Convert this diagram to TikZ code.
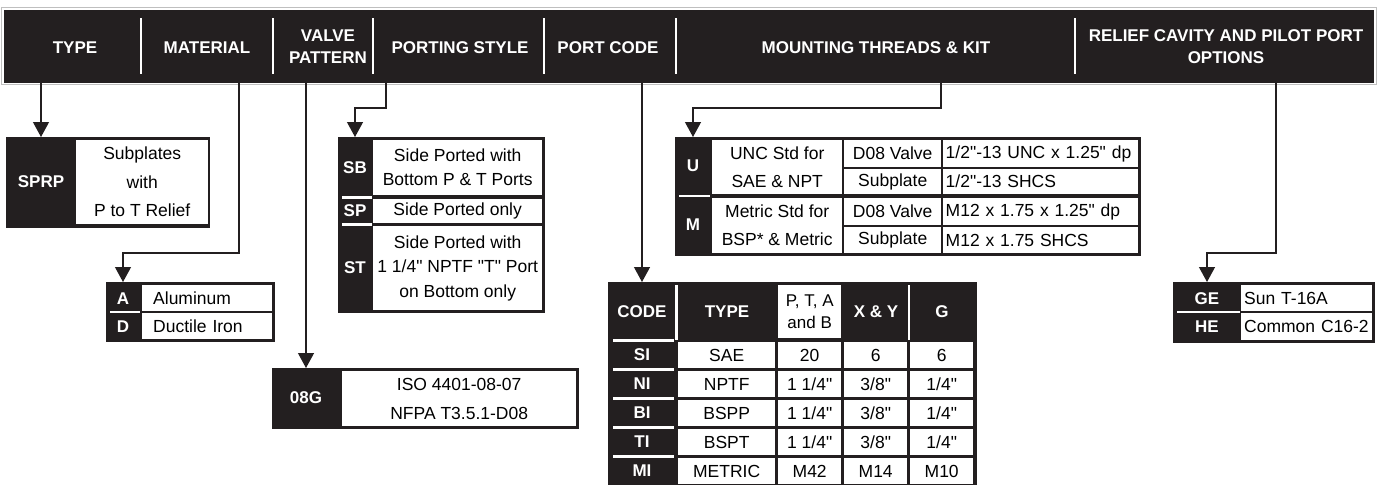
\documentclass[tikz,border=0pt]{standalone}
\usepackage{fontspec}
\setmainfont{Liberation Sans}[Ligatures=TeXOff]
\usetikzlibrary{arrows.meta, positioning}
\definecolor{ink}{HTML}{231F20}

\begin{document}
\begin{tikzpicture}[x=1pt, y=-1pt,
    tab/.style={fill=ink, inner sep=0pt, anchor=north west},
    cell/.style={fill=white, inner sep=0pt, anchor=north west, align=center, font=\fontsize{17.5}{28}\selectfont},
    lcell/.style={cell, align=left, inner xsep=4pt},
    code/.style={text=white, inner sep=0pt, font=\fontsize{17}{20}\selectfont\bfseries},
    hdr/.style={text=white, inner sep=0pt, align=center, font=\fontsize{17}{22}\selectfont\bfseries},
    sep/.style={draw=white, line width=2.5pt},
    arr/.style={-{Triangle[length=15pt, width=16pt]}, line width=1.2pt, draw=ink}
]
\useasboundingbox (0,0) rectangle (1378,485);

% header bar
\node[tab, minimum width=1370pt, minimum height=73pt] (head) at (4,10) {};
\draw[gray!50, line width=0.8pt] (1.5,7.5) rectangle (1376.5,84.5);
\foreach \x in {141,273,373,544,676,1075} \draw[sep] (\x,18) -- (\x,74);
\node[hdr] (hType) at (75,48) {TYPE};
\node[hdr] (hMat) at (207,48) {MATERIAL};
\node[hdr] (hVp) at (328,47) {VALVE\\PATTERN};
\node[hdr] (hPort) at (460,48) {PORTING STYLE};
\node[hdr] (hCode) at (608,48) {PORT CODE};
\node[hdr] (hMnt) at (876,48) {MOUNTING THREADS \& KIT};
\node[hdr] (hRel) at (1226,47) {RELIEF CAVITY AND PILOT PORT\\OPTIONS};

% type
\node[tab, minimum width=204pt, minimum height=91pt] (sprp) at (6,137) {};
\node[cell, minimum width=132pt, minimum height=84pt, font=\fontsize{17.5}{28.5}\selectfont] (sprpTxt) at (76,140) {Subplates\\with\\P to T Relief};
\node[code] (cSPRP) at (41,182) {SPRP};

% material
\node[tab, minimum width=169pt, minimum height=60pt] (mat) at (106,282) {};
\node[lcell, inner xsep=11pt, text width=108pt, minimum height=26pt] (matA) at (142,285) {Aluminum};
\node[lcell, inner xsep=11pt, text width=108pt, minimum height=26pt] (matD) at (142,313) {Ductile Iron};
\node[code] (cA) at (123,299) {A};
\node[code] (cD) at (123,327) {D};
\draw[sep] (110,312) -- (140,312);

% valve pattern
\node[tab, minimum width=307pt, minimum height=61pt] (vp) at (272,368) {};
\node[cell, minimum width=234pt, minimum height=55pt, font=\fontsize{17.5}{29}\selectfont] (vpTxt) at (342,371) {ISO 4401-08-07\\NFPA T3.5.1-D08};
\node[code] (c08G) at (306,398) {08G};

% porting style
\node[tab, minimum width=207pt, minimum height=176pt] (port) at (338,137) {};
\node[cell, minimum width=169pt, minimum height=55pt, font=\fontsize{17.5}{24}\selectfont] (portSB) at (373,140) {Side Ported with\\Bottom P \& T Ports};
\node[cell, minimum width=169pt, minimum height=24pt] (portSP) at (373,199) {Side Ported only};
\node[cell, minimum width=169pt, minimum height=84pt, font=\fontsize{17.5}{24.5}\selectfont] (portST) at (373,226) {Side Ported with\\1 1/4" NPTF "T" Port\\on Bottom only};
\node[code] (cSB) at (355,168) {SB};
\node[code] (cSP) at (355,211) {SP};
\node[code] (cST) at (355,268) {ST};
\draw[sep] (342,197.5) -- (372,197.5);
\draw[sep] (342,224.5) -- (372,224.5);

% port code
\node[tab, minimum width=369pt, minimum height=203pt] (pc) at (608,282) {};
\node[cell, minimum width=63pt, minimum height=53pt, font=\fontsize{17}{22}\selectfont] (pcPTAB) at (778,285) {P, T, A\\and B};
\node[code] (cCode) at (642,312) {CODE};
\node[code] (pcType) at (727,312) {TYPE};
\node[code] (pcXY) at (876,312) {X \& Y};
\node[code] (pcG) at (942,312) {G};
\draw[sep] (676.5,285) -- (676.5,340);
\draw[sep] (909,285) -- (909,340);
\draw[sep] (613,340.5) -- (674,340.5);
\foreach \c/\t/\p/\q/\g [count=\i from 0] in {SI/SAE/20/6/6, NI/NPTF/{1 1/4"}/{3/8"}/{1/4"}, BI/BSPP/{1 1/4"}/{3/8"}/{1/4"}, TI/BSPT/{1 1/4"}/{3/8"}/{1/4"}, MI/METRIC/M42/M14/M10} {
  \pgfmathsetmacro\y{342+29*\i}
  \node[code] (c\c) at (642,\y+13) {\c};
  \node[cell, minimum width=97pt, minimum height=26pt] (t\c) at (678,\y) {\t};
  \node[cell, minimum width=63pt, minimum height=26pt] (p\c) at (778,\y) {\p};
  \node[cell, minimum width=63pt, minimum height=26pt] (q\c) at (844,\y) {\q};
  \node[cell, minimum width=63pt, minimum height=26pt] (g\c) at (910,\y) {\g};
  \ifnum\i>0 \draw[sep] (613,\y-1.5) -- (674,\y-1.5); \fi
}

% mounting threads & kit
\node[tab, minimum width=466pt, minimum height=119pt] (mnt) at (675,137) {};
\node[cell, minimum width=130pt, minimum height=54pt] (mntU) at (712,140) {UNC Std for\\SAE \& NPT};
\node[cell, minimum width=130pt, minimum height=55pt] (mntM) at (712,198) {Metric Std for\\BSP* \& Metric};
\node[cell, minimum width=97pt, minimum height=27pt] (mntUv) at (844,140) {D08 Valve};
\node[cell, minimum width=97pt, minimum height=25pt] (mntUs) at (844,169) {Subplate};
\node[cell, minimum width=97pt, minimum height=27pt] (mntMv) at (844,198) {D08 Valve};
\node[cell, minimum width=97pt, minimum height=26pt] (mntMs) at (844,227) {Subplate};
\node[lcell, inner xsep=2.5pt, text width=190pt, minimum height=27pt] (thrUv) at (943,140) {1/2"-13 UNC x 1.25" dp};
\node[lcell, inner xsep=2.5pt, text width=190pt, minimum height=25pt] (thrUs) at (943,169) {1/2"-13 SHCS};
\node[lcell, inner xsep=2.5pt, text width=190pt, minimum height=27pt] (thrMv) at (943,198) {M12 x 1.75 x 1.25" dp};
\node[lcell, inner xsep=2.5pt, text width=190pt, minimum height=26pt] (thrMs) at (943,227) {M12 x 1.75 SHCS};
\node[code] (cU) at (693,166) {U};
\node[code] (cM) at (693,225) {M};
\draw[sep] (679,196) -- (710,196);

% relief cavity and pilot port
\node[tab, minimum width=202pt, minimum height=61pt] (rel) at (1173,282) {};
\node[lcell, inner xsep=3pt, text width=125pt, minimum height=26pt] (relGE) at (1241,285) {Sun T-16A};
\node[lcell, inner xsep=3pt, text width=125pt, minimum height=27pt] (relHE) at (1241,313) {Common C16-2};
\node[code] (cGE) at (1207,299) {GE};
\node[code] (cHE) at (1207,327) {HE};
\draw[sep] (1177,312) -- (1240,312);

% connectors
\coordinate (sMat) at (239,83);
\coordinate (sPort) at (386,83);
\coordinate (sMnt) at (941,83);
\coordinate (sRel) at (1276,83);
\draw[arr] (cSPRP |- head.south) -- (cSPRP |- sprp.north);
\draw[arr] (sMat) -- ++(0,170) -| (cA |- mat.north);
\draw[arr] (c08G |- head.south) -- (c08G |- vp.north);
\draw[arr] (sPort) -- ++(0,25) -| (cSB |- port.north);
\draw[arr] (cCode |- head.south) -- (cCode |- pc.north);
\draw[arr] (sMnt) -- ++(0,25) -| (cU |- mnt.north);
\draw[arr] (sRel) -- ++(0,170) -| (cGE |- rel.north);
\end{tikzpicture}
\end{document}
